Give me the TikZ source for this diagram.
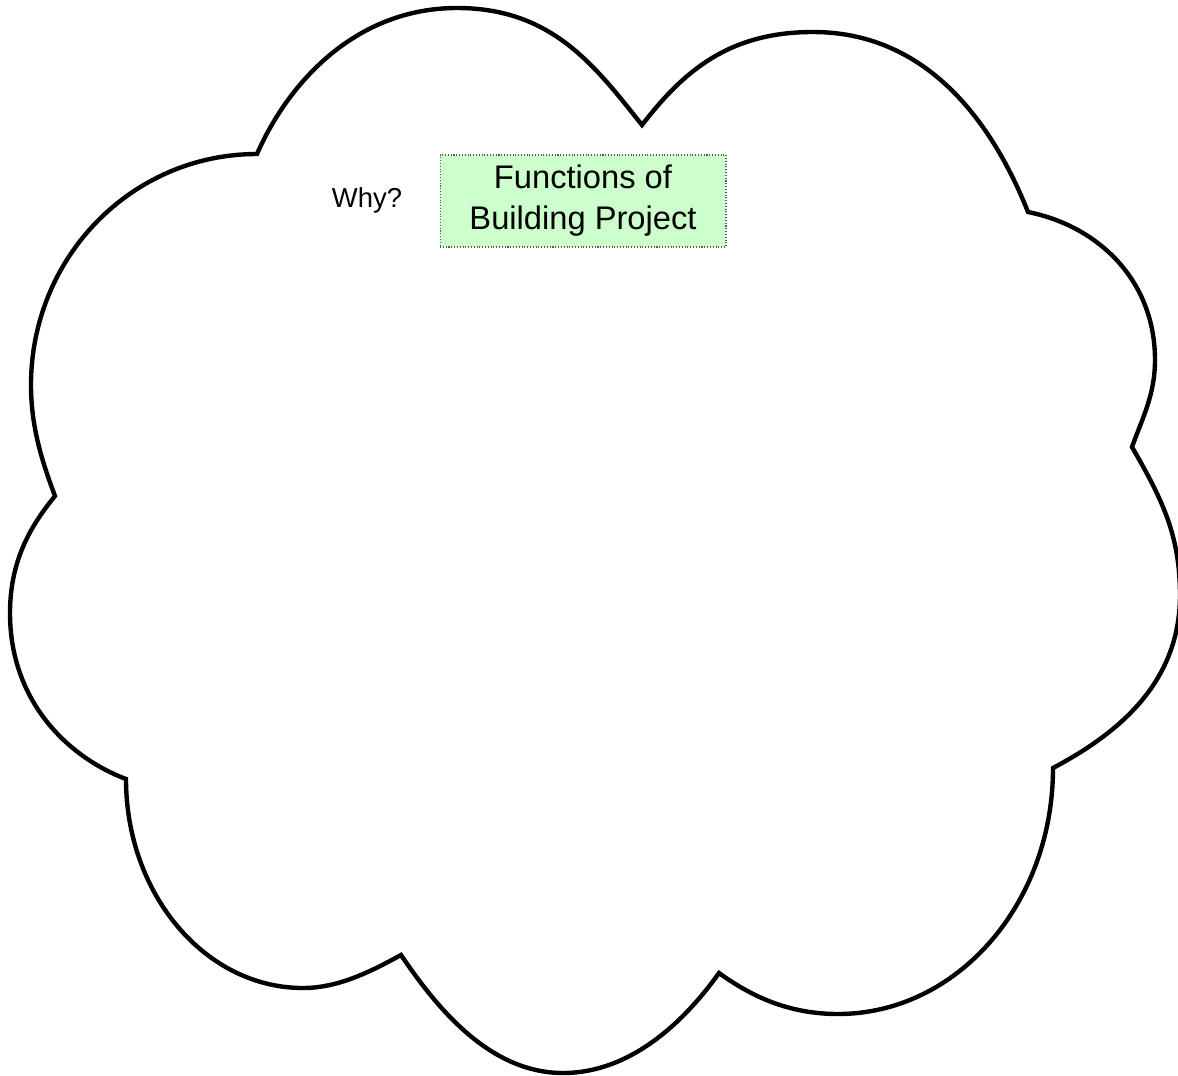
\documentclass[tikz,border=0pt]{standalone}
\usepackage{fontspec}
\setmainfont{Liberation Sans}
\usetikzlibrary{positioning}
\definecolor{boxgreen}{RGB}{204,255,204}

\begin{document}
\begin{tikzpicture}[x=0.02cm, y=-0.02cm,
    cloudline/.style={draw=black, line width=2.5pt, line join=miter},
    funcbox/.style={fill=boxgreen, draw=black!65, densely dotted, line width=0.6pt,
      minimum width=5.72cm, minimum height=1.84cm, inner sep=0pt, align=center,
      font=\fontsize{18.6}{23.3}\selectfont},
    whylabel/.style={font=\fontsize{15.6}{18}\selectfont}]
  \useasboundingbox (0,0) rectangle (1178,1076);

  % dents between the lobes of the cloud
  \coordinate (dent_l)  at (55,496);
  \coordinate (dent_tl) at (257,154);
  \coordinate (dent_t)  at (642,125);
  \coordinate (dent_tr) at (1028,212);
  \coordinate (dent_r)  at (1132,447);
  \coordinate (dent_br) at (1053,768);
  \coordinate (dent_b)  at (719,973);
  \coordinate (dent_bl) at (401,955);
  \coordinate (dent_lb) at (126,779);

  % cloud outline, two curves per lobe
  \draw[cloudline] (dent_l)
    .. controls (41,459) and (31,425) .. (31,385)
    .. controls (31,257) and (132,154) .. (dent_tl)
    .. controls (289,81) and (357,8) .. (457,8)
    .. controls (552,8) and (595,66) .. (dent_t)
    .. controls (683,72) and (728,32) .. (813,32)
    .. controls (928,32) and (993,124) .. (dent_tr)
    .. controls (1098,226) and (1155,280) .. (1155,360)
    .. controls (1155,395) and (1142,419) .. (dent_r)
    .. controls (1162,499) and (1180,535) .. (1180,595)
    .. controls (1180,685) and (1115,735) .. (dent_br)
    .. controls (1053,904) and (957,1014) .. (838,1014)
    .. controls (788,1014) and (751,996) .. (dent_b)
    .. controls (687,1018) and (633,1073) .. (563,1073)
    .. controls (488,1073) and (435,1005) .. (dent_bl)
    .. controls (370,972) and (338,988) .. (303,988)
    .. controls (205,988) and (126,894) .. (dent_lb)
    .. controls (70,758) and (10,703) .. (10,613)
    .. controls (10,558) and (33,523) .. (dent_l)
    -- cycle;

  % labels
  \node[whylabel] (why) at (367,200) {Why?};
  \node[funcbox] (func) at (583,201) {Functions of\\Building Project};
\end{tikzpicture}
\end{document}
